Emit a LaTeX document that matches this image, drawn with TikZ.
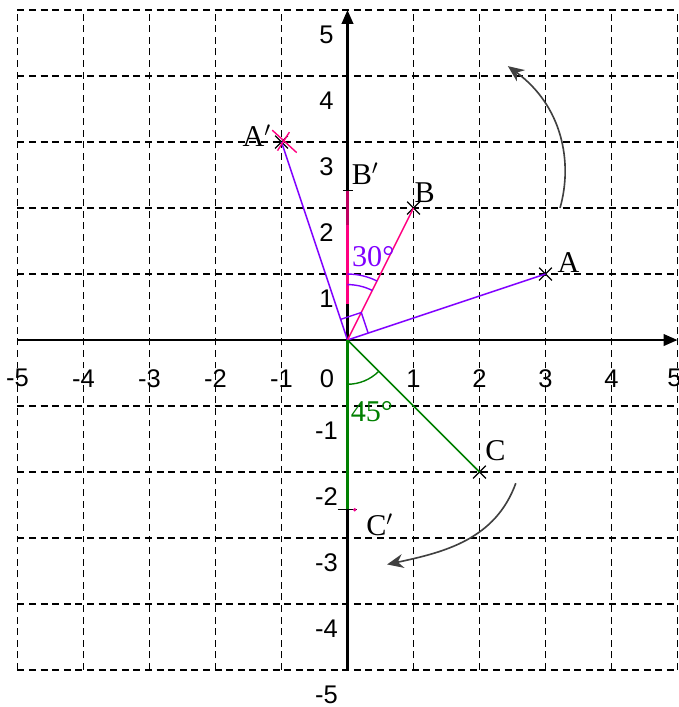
\documentclass[tikz,border=0pt]{standalone}
\usepackage{fontspec}
\setmainfont{Liberation Serif}
\newfontfamily\numfont{Liberation Sans}
\usepackage{tikz}
\usetikzlibrary{arrows.meta, shapes.misc, positioning}
\definecolor{rotviolet}{RGB}{128,0,255}
\definecolor{rotpink}{RGB}{255,0,128}
\definecolor{rotgreen}{RGB}{0,128,0}

\begin{document}
\begin{tikzpicture}[
        gridline/.style={line width=0.7pt, dash pattern=on 3pt off 2pt},
        axis/.style={line width=0.9pt, -{Triangle[length=6pt, width=5pt]}},
        tick/.style={font=\numfont\fontsize{11}{13}\selectfont, inner sep=0pt},
        point/.style={draw, cross out, minimum size=5pt, inner sep=0pt, line width=0.5pt},
        letter/.style={font=\fontsize{13}{15}\selectfont, inner sep=0pt},
        seg/.style={line width=0.65pt},
        turn/.style={line width=0.7pt, draw=black!75, -{Stealth[length=7pt, width=6pt]}}
    ]
        \useasboundingbox (-5.265,-5.56) rectangle (5.008,5.152);

        \foreach \i in {-5,...,5} {
            \draw[gridline] (\i,-5) -- (\i,5);
            \draw[gridline] (-5,\i) -- (5,\i);
        }

        \coordinate (O) at (0,0);
        \coordinate (xend) at (5,0);
        \coordinate (xbeg) at (-5,0);
        \coordinate (yend) at (0,5);
        \coordinate (ybeg) at (0,-5);
        \draw[axis] (xbeg) -- (xend);
        \draw[axis] (ybeg) -- (yend);

        \foreach \i in {-5,-4,-3,-2,-1,1,2,3,4} {
            \node[tick] (xl\i) at (\i,-0.58) {\i};
        }
        \node[tick] (xl5) at (4.955,-0.58) {5};
        \foreach \i in {-5,-4,-3,-2,-1,1,2,3,4,5} {
            \node[tick] (yl\i) at (-0.32,{\i-0.37}) {\i};
        }
        \node[tick] (zero) at (-0.31,-0.58) {0};

        \node[point] (pA) at (3,1) {};
        \node[point] (pB) at (1,2) {};
        \node[point] (pC) at (2,-2) {};
        \node[point] (pAp) at (-1,3) {};
        \coordinate (pBp) at (0,2.27);
        \coordinate (pCp) at (0,-2.57);

        \draw[line width=1.5pt] (O) -- (0,0.55);

        \draw[seg, rotviolet] (O) -- (pA.center);
        \draw[seg, rotviolet] (O) -- (pAp.center);
        \draw[seg, rotpink] (O) -- (pB.center);
        \draw[rotpink, line width=0.9pt] (0,0.55) -- (pBp);
        \draw[line width=1.4pt, rotpink!75!black] (0,1.74) -- (pBp);
        \draw[rotgreen, line width=0.9pt] (O) -- (pCp);
        \draw[seg, rotgreen] (O) -- (pC.center);

        \draw[rotpink, line width=0.6pt] (-1.14,3.18) -- (-0.77,2.84);
        \draw[rotpink, line width=0.6pt] (-1.06,2.87) -- (-0.88,3.15);
        \draw[line width=0.6pt] (pBp) +(-0.07,0) -- +(0.08,0);
        \draw[line width=0.6pt] (pCp) +(-0.15,0) -- +(0.15,0);
        \fill[magenta] (pCp) ++(0.11,0) circle (0.8pt);

        \draw[rotviolet, line width=0.6pt] (0,1) arc[start angle=90, end angle=63.4, radius=1];
        \draw[rotviolet, line width=0.6pt] (0,0.84) arc[start angle=90, end angle=63.4, radius=0.84];
        \draw[rotviolet, line width=0.6pt] (18.43:0.33) -- ++(108.43:0.33) -- (108.43:0.33);
        \draw[rotgreen, line width=0.6pt] (0,-0.67) arc[start angle=-90, end angle=-45, radius=0.67];

        \node[letter] (lA) at (3.35,1.17) {A};
        \node[letter] (lB) at (1.17,2.23) {B};
        \node[letter] (lC) at (2.24,-1.67) {C};
        \node[letter] (lAp) at (-1.37,3.1) {A$'$};
        \node[letter] (lBp) at (0.27,2.52) {B$'$};
        \node[letter] (lCp) at (0.49,-2.8) {C$'$};
        \node[letter, text=rotviolet] (ang30) at (0.39,1.26) {30°};
        \node[letter, text=rotgreen] (ang45) at (0.37,-1.09) {45°};

        \coordinate (upS) at (3.22,2.0);
        \coordinate (upE) at (2.43,4.15);
        \coordinate (dnS) at (2.55,-2.17);
        \coordinate (dnE) at (0.6,-3.4);
        \draw[turn] (upS) .. controls (3.42,2.7) and (3.25,3.55) .. (upE);
        \draw[turn] (dnS) to[out=-110, in=12] (dnE);

    \end{tikzpicture}
\end{document}
